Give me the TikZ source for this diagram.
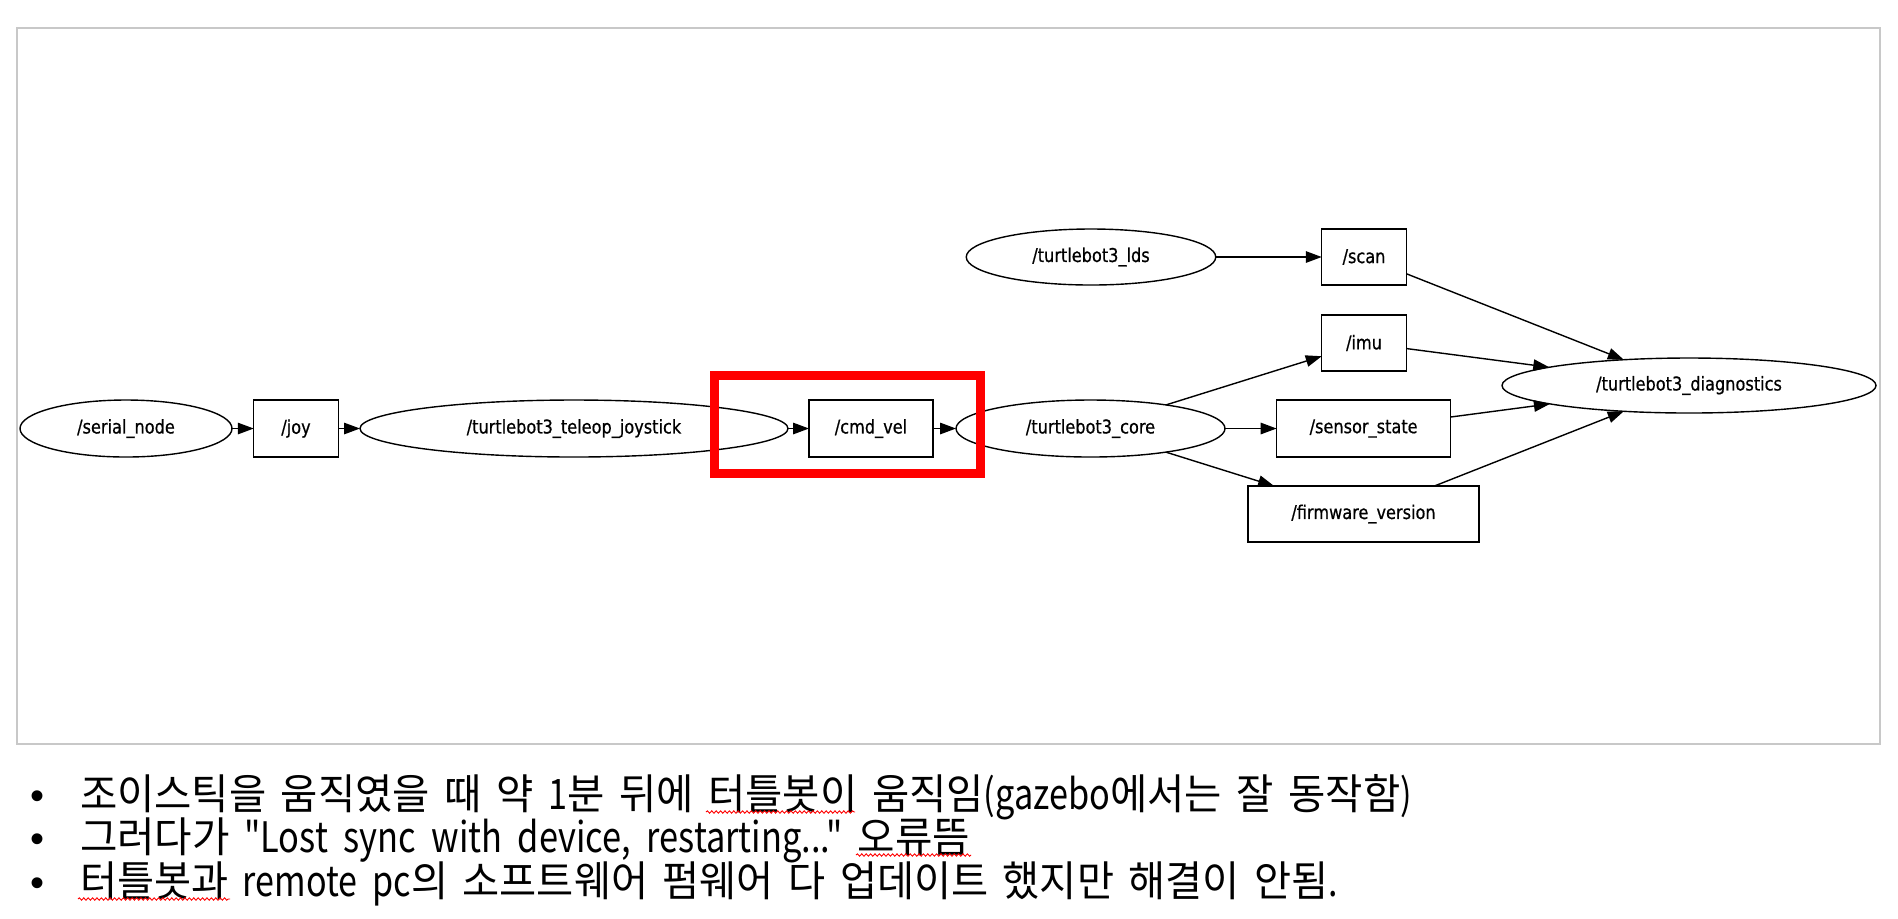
\documentclass[tikz,border=0pt]{standalone}
\usepackage{fontspec}
\usepackage{graphicx}
\setmainfont{DejaVu Sans}
\newfontfamily\lblfont[FakeStretch=0.85,FakeBold=0.6]{DejaVu Sans}
\newfontfamily\krfont[FakeStretch=0.97,WordSpace=1.6]{Noto Sans CJK KR}
\newfontfamily\krlat[FakeStretch=0.82,WordSpace=2.0]{Noto Sans CJK KR}
\newfontfamily\bulfont{Liberation Sans}
\newcommand\latn[1]{{\krlat #1}}
\newcommand\fitline[2]{\resizebox{#1}{\height}{#2}}
\usetikzlibrary{shapes.geometric,arrows.meta,decorations.pathmorphing}
\definecolor{framegray}{RGB}{200,200,200}
\begin{document}
\begin{tikzpicture}[x=0.5pt,y=-0.5pt,
  every node/.style={inner sep=0pt,outer sep=0pt},
  lbl/.style={font=\lblfont\fontsize{9.5pt}{11pt}\selectfont},
  topic/.style={lbl,draw,line width=0.7pt,rectangle},
  rosnode/.style={lbl,draw,line width=0.7pt,ellipse},
  link/.style={line width=0.7pt,-{Triangle[length=8pt,width=5.75pt]}},
  kr/.style={anchor=base west,font=\krfont\fontsize{21pt}{24pt}\selectfont},
  bul/.style={anchor=base,font=\bulfont\fontsize{20pt}{22pt}\selectfont},
  spell/.style={red,line width=0.45pt,decorate,decoration={snake,amplitude=0.6pt,segment length=2.2pt}}
]
\useasboundingbox (0,0) rectangle (1898,918);
% frame
\draw[framegray,line width=1pt] (17,28) rectangle (1880,744);

% nodes
\node[rosnode,minimum width=106pt,minimum height=28.5pt] (serial) at (126,428.5) {/serial\_node};
\node[topic,minimum width=42.25pt,minimum height=28.5pt] (joy) at (296,428.5) {/joy};
\node[rosnode,minimum width=214pt,minimum height=28.5pt] (teleop) at (574,428.5) {/turtlebot3\_teleop\_joystick};
\node[topic,minimum width=62pt,minimum height=28.5pt] (cmd) at (871,428.5) {/cmd\_vel};
\node[rosnode,minimum width=134.5pt,minimum height=28.5pt] (core) at (1090.5,428.5) {/turtlebot3\_core};
\node[rosnode,minimum width=124.75pt,minimum height=28pt] (lds) at (1091,257) {/turtlebot3\_lds};
\node[topic,minimum width=42.25pt,minimum height=28pt] (scan) at (1364,257) {/scan};
\node[topic,minimum width=42.25pt,minimum height=28pt] (imu) at (1364,343) {/imu};
\node[topic,minimum width=87pt,minimum height=28.5pt] (sensor) at (1363.6,428.5) {/sensor\_state};
\node[topic,minimum width=115.5pt,minimum height=28pt] (firmware) at (1363.5,514) {/firmware\_version};
\node[rosnode,minimum width=187pt,minimum height=27.5pt] (diag) at (1689,385.5) {/turtlebot3\_diagnostics};

% edges
\draw[link] (serial) -- (joy);
\draw[link] (joy) -- (teleop);
\draw[link] (teleop) -- (cmd);
\draw[link] (cmd) -- (core);
\draw[link] (core) -- (sensor);
\draw[link] (core) -- (imu);
\draw[link] (core) -- (firmware);
\draw[link] (lds) -- (scan);
\draw[link] (scan) -- (diag);
\draw[link] (imu) -- (diag);
\draw[link] (sensor) -- (diag);
\draw[link] (firmware) -- (diag);

% highlight
\draw[red,line width=4.5pt] (714,375.5) rectangle (980,473.5);

% notes
\node[bul] (b1) at (38,809) {•};
\node[bul] (b2) at (38,852) {•};
\node[bul] (b3) at (38,896) {•};
\node[kr] (l1) at (80,809) {\fitline{666pt}{조이스틱을 움직였을 때 약 \latn{1}분 뒤에 터틀봇이 움직임\latn{(gazebo}에서는 잘 동작함\latn{)}}};
\node[kr] (l2) at (80,852) {\fitline{445pt}{그러다가 \latn{"Lost sync with device, restarting..."} 오류뜸}};
\node[kr] (l3) at (80,896) {\fitline{629pt}{터틀봇과 \latn{remote pc}의 소프트웨어 펌웨어 다 업데이트 했지만 해결이 안됨\latn{.}}};
\draw[spell] (706,812) -- (855,812);
\draw[spell] (856,855) -- (971,855);
\draw[spell] (78,899) -- (230,899);
\end{tikzpicture}
\end{document}
